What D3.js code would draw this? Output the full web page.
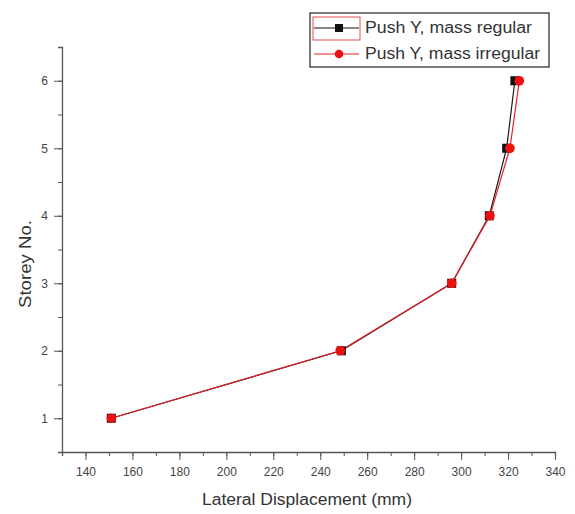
<!DOCTYPE html>
<html><head><meta charset="utf-8">
<script src="https://cdn.jsdelivr.net/npm/d3@7"></script>
<style>body{margin:0;background:#fff}svg{display:block}text{font-family:"Liberation Sans",Arial,sans-serif}</style>
</head><body><svg id="c" width="575" height="514"></svg>
<script>
const storeys = [1, 2, 3, 4, 5, 6];
const massRegular = [151, 249, 296, 312, 319.4, 322.9];
const massIrregular = [151, 248.5, 296, 312.3, 320.8, 324.8];
const seriesNames = ["Push Y, mass regular", "Push Y, mass irregular"];
const xMajorTicks = [140, 160, 180, 200, 220, 240, 260, 280, 300, 320, 340];
const yMajorTicks = [1, 2, 3, 4, 5, 6];

const svg = d3.select("#c");
const x = d3.scaleLinear().domain([130, 340]).range([62, 555]);
const y = d3.scaleLinear().domain([0.5, 6.5]).range([452, 47]);
const axisColor = "#555";
const labelColor = "#444";

// X axis
const xMinor = d3.range(130, 341, 10);
const gx = svg.append("g").attr("transform", "translate(0,452)");
gx.call(d3.axisBottom(x).tickValues(xMinor).tickSize(4).tickFormat(""));
gx.append("g").call(d3.axisBottom(x).tickValues(xMajorTicks).tickSize(8).tickPadding(7).tickFormat(d3.format("d")));
gx.selectAll("path.domain").attr("stroke", axisColor).attr("stroke-width", 1.3);
gx.selectAll("g.tick line").attr("stroke", axisColor);
gx.selectAll("text").attr("font-size", 12).attr("fill", labelColor).attr("font-family", "Liberation Sans, Arial, sans-serif");
gx.selectAll("g > g > path.domain").remove();

// Y axis
const yMinor = d3.range(0.5, 6.51, 0.5);
const gy = svg.append("g").attr("transform", "translate(62,0)");
gy.call(d3.axisLeft(y).tickValues(yMinor).tickSize(4).tickFormat(""));
gy.append("g").call(d3.axisLeft(y).tickValues(yMajorTicks).tickSize(8).tickPadding(6).tickFormat(d3.format("d")));
gy.selectAll("path.domain").attr("stroke", axisColor).attr("stroke-width", 1.3);
gy.selectAll("g.tick line").attr("stroke", axisColor);
gy.selectAll("text").attr("font-size", 12).attr("fill", labelColor).attr("font-family", "Liberation Sans, Arial, sans-serif");
gy.selectAll("g > g > path.domain").remove();

// Axis titles
svg.append("text").attr("x", 202).attr("y", 505)
  .attr("font-size", 16).attr("fill", "#333")
  .attr("textLength", 210).attr("lengthAdjust", "spacingAndGlyphs").text("Lateral Displacement (mm)");
svg.append("text").attr("transform", "translate(31,308) rotate(-90)")
  .attr("font-size", 17).attr("fill", "#333")
  .attr("textLength", 88).attr("lengthAdjust", "spacingAndGlyphs").text("Storey No.");

// Series
const line = d3.line().x(d => x(d[0])).y(d => y(d[1]));
const regPts = storeys.map((s, i) => [massRegular[i], s]);
const irrPts = storeys.map((s, i) => [massIrregular[i], s]);

svg.append("path").datum(regPts).attr("d", line).attr("fill", "none").attr("stroke", "#1a1a1a").attr("stroke-width", 1.2);
svg.append("path").datum(irrPts).attr("d", line).attr("fill", "none").attr("stroke", "#e8202a").attr("stroke-width", 1.2);

svg.selectAll("rect.reg").data(regPts).join("rect").attr("class", "reg")
  .attr("x", d => x(d[0]) - 4.5).attr("y", d => y(d[1]) - 4.5).attr("width", 9).attr("height", 9).attr("fill", "#111");
svg.selectAll("circle.irr").data(irrPts).join("circle").attr("class", "irr")
  .attr("cx", d => x(d[0])).attr("cy", d => y(d[1])).attr("r", 4.8).attr("fill", "#ee1111");

// Legend
const lg = svg.append("g");
lg.append("rect").attr("x", 310).attr("y", 13).attr("width", 239).attr("height", 54)
  .attr("fill", "#fff").attr("stroke", "#222").attr("stroke-width", 1.2);
lg.append("rect").attr("x", 313).attr("y", 17).attr("width", 47).attr("height", 23)
  .attr("fill", "none").attr("stroke", "#e05050").attr("stroke-width", 1);
lg.append("line").attr("x1", 314).attr("x2", 359).attr("y1", 28).attr("y2", 28).attr("stroke", "#111").attr("stroke-width", 1.2);
lg.append("rect").attr("x", 335).attr("y", 24).attr("width", 8).attr("height", 8).attr("fill", "#111");
lg.append("line").attr("x1", 314).attr("x2", 359).attr("y1", 54).attr("y2", 54).attr("stroke", "#e8202a").attr("stroke-width", 1.2);
lg.append("circle").attr("cx", 339).attr("cy", 54).attr("r", 4.3).attr("fill", "#ee1111");
const legLens = [167, 175];
lg.selectAll("text.leg").data(seriesNames).join("text").attr("class", "leg")
  .attr("x", 365).attr("y", (d, i) => 33 + i * 26).attr("font-size", 16).attr("fill", "#333")
  .attr("textLength", (d, i) => legLens[i]).attr("lengthAdjust", "spacingAndGlyphs").text(d => d);
</script></body></html>
